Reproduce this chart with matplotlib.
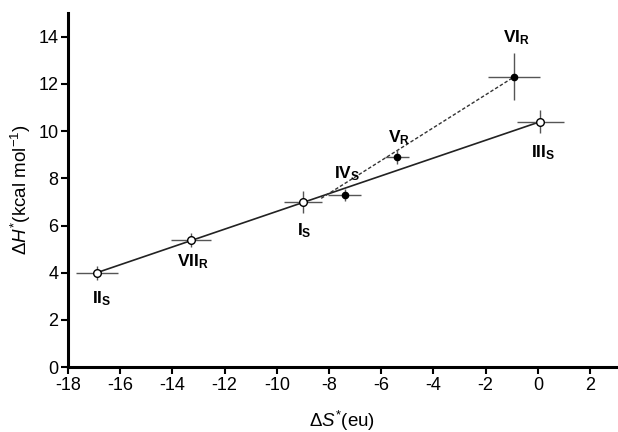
import matplotlib.pyplot as plt
import matplotlib as mpl

mpl.rcParams["font.family"] = ["Liberation Sans", "DejaVu Sans"]
mpl.rcParams["mathtext.fontset"] = "custom"
mpl.rcParams["mathtext.rm"] = "Liberation Sans"
mpl.rcParams["mathtext.it"] = "Liberation Sans:italic"
mpl.rcParams["mathtext.bf"] = "Liberation Sans:bold"

# ---------------------------------------------------------------------
#  Data
# ---------------------------------------------------------------------
names = ["II", "VII", "I", "IV", "V", "VI", "III"]
subs = ["S", "R", "S", "S", "R", "R", "S"]
dS = [-16.9, -13.3, -9.0, -7.4, -5.4, -0.9, 0.1]
dH = [4.0, 5.4, 7.0, 7.3, 8.9, 12.3, 10.4]
dS_err = [0.8, 0.77, 0.73, 0.62, 0.45, 1.0, 0.9]
dH_err = [0.3, 0.3, 0.47, 0.25, 0.3, 1.0, 0.5]
filled = [False, False, False, True, True, True, False]

label_x = [-16.7, -13.2, -8.95, -7.3, -5.3, -0.8, 0.2]
label_y = [2.9, 4.45, 5.8, 8.2, 9.7, 13.95, 9.1]

solid_x = [-16.9, 0.1]
solid_y = [4.0, 10.4]
dash_x = [-8.3, -0.9]
dash_y = [7.15, 12.3]

fig = plt.figure(figsize=(6.18, 4.32), dpi=100)
ax = fig.add_axes([0.110, 0.150, 0.887, 0.820])

ax.plot(solid_x, solid_y, color="#222222", lw=1.2, zorder=2)
ax.plot(dash_x, dash_y, color="#333333", lw=1.0, ls=(0, (2.5, 1.5)), zorder=2)

for i in range(len(dS)):
    ax.errorbar(dS[i], dH[i], xerr=dS_err[i], yerr=dH_err[i], fmt="none",
                ecolor="#555555", elinewidth=1.0, capsize=0, zorder=3)
    if filled[i]:
        ax.plot(dS[i], dH[i], "o", ms=4.5, mfc="black", mec="black", zorder=4)
    else:
        ax.plot(dS[i], dH[i], "o", ms=5.5, mfc="white", mec="black", mew=1.0, zorder=4)
    ax.text(label_x[i], label_y[i],
            r"$\mathbf{%s}_{\mathbf{%s}}$" % (names[i], subs[i]),
            ha="center", va="center", fontsize=12.5)

ax.set_xlim(-18, 3)
ax.set_ylim(0, 15)
ax.set_xticks(range(-18, 3, 2))
ax.set_yticks(range(0, 15, 2))
ax.set_xticklabels([str(t) for t in range(-18, 3, 2)])

for s in ("top", "right"):
    ax.spines[s].set_visible(False)
for s in ("left", "bottom"):
    ax.spines[s].set_linewidth(2.2)
ax.tick_params(direction="out", length=5, width=1.5, labelsize=13, pad=2)

ax.set_xlabel(r"$\Delta\mathit{S}^{*}$(eu)", fontsize=13.5, labelpad=11)
ax.set_ylabel(r"$\Delta\mathit{H}^{*}$(kcal mol$^{-1}$)", fontsize=13.5, labelpad=4)

fig.savefig("out.png", dpi=100)
